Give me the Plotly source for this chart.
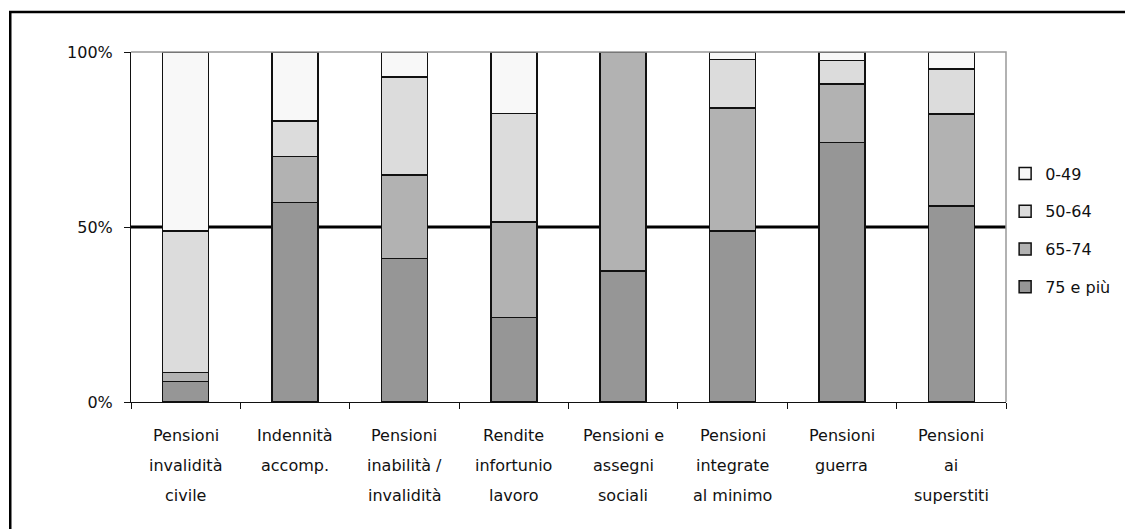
import plotly.graph_objects as go

# categories (label lines split by "|")
categories = [
    "Pensioni|invalidità|civile",
    "Indennità|accomp.",
    "Pensioni|inabilità /|invalidità",
    "Rendite|infortunio|lavoro",
    "Pensioni e|assegni|sociali",
    "Pensioni|integrate|al minimo",
    "Pensioni|guerra",
    "Pensioni|ai|superstiti",
]

# shares per age class (%)
age_75_plus = [5.8, 57.0, 41.0, 24.2, 37.4, 48.9, 74.1, 56.0]
age_65_74 = [2.7, 13.2, 23.8, 27.3, 62.6, 35.1, 16.7, 26.3]
age_50_64 = [40.4, 10.1, 28.0, 31.0, 0.0, 13.8, 6.8, 12.8]
age_0_49 = [51.1, 19.7, 7.2, 17.5, 0.0, 2.2, 2.4, 4.9]

series = [
    ("75 e più", age_75_plus, "#969696"),
    ("65-74", age_65_74, "#b2b2b2"),
    ("50-64", age_50_64, "#dcdcdc"),
    ("0-49", age_0_49, "#f8f8f8"),
]

y_ticks = [0, 50, 100]
y_tick_text = ["0%", "50%", "100%"]

FONT = "DejaVu Sans"

fig = go.Figure()
for i, (name, vals, color) in enumerate(series):
    fig.add_trace(
        go.Bar(
            x=categories,
            y=vals,
            name=name,
            legendgroup=name,
            legendrank=len(series) - i,  # youngest class on top
            marker=dict(color=color, line=dict(color="#111111", width=1.5)),
        )
    )

# page body adds 8px, margins compensate
fig.update_layout(
    barmode="stack",
    bargap=0.58,
    width=1133,
    height=529,
    margin=dict(l=123, r=135, t=44, b=135),
    plot_bgcolor="white",
    paper_bgcolor="white",
    font=dict(family=FONT, size=16, color="#111111"),
    showlegend=True,
    legend=dict(
        x=0.999,
        xanchor="left",
        y=0.49,
        yanchor="middle",
        traceorder="grouped",
        tracegroupgap=14,
        font=dict(size=16),
        bgcolor="rgba(0,0,0,0)",
    ),
)

fig.update_xaxes(
    type="category",
    tickson="boundaries",
    ticks="outside",
    ticklen=6,
    tickcolor="#111111",
    showticklabels=False,
    showline=True,
    linecolor="#111111",
    linewidth=1,
    showgrid=False,
)
fig.update_yaxes(
    range=[0, 100],
    tickvals=y_ticks,
    ticktext=y_tick_text,
    ticks="outside",
    ticklen=6,
    tickcolor="#111111",
    ticklabelstandoff=8,
    showline=True,
    linecolor="#111111",
    linewidth=1,
    showgrid=False,
    zeroline=False,
    tickfont=dict(size=16),
)

# thick 50% line behind the bars
fig.add_shape(type="line", xref="paper", yref="y", x0=0, x1=1, y0=50, y1=50,
              line=dict(color="black", width=3), layer="below")
# gray top/right edge of the plot area
fig.add_shape(type="path", xref="paper", yref="paper", path="M 0 1 L 1 1 L 1 0",
              line=dict(color="#999999", width=1.5))
# outer chart frame
fig.add_shape(type="rect", xref="paper", yref="paper", x0=-0.138, x1=1.3, y0=-0.6, y1=1.114,
              line=dict(color="black", width=2.5))

# multi-line category labels
for cat in categories:
    for i, line in enumerate(cat.split("|")):
        fig.add_annotation(
            x=cat, xref="x", y=0, yref="paper",
            text=line, showarrow=False,
            yanchor="middle", yshift=-33 - 30 * i,
            font=dict(size=16),
        )

fig.write_html("out.html")
